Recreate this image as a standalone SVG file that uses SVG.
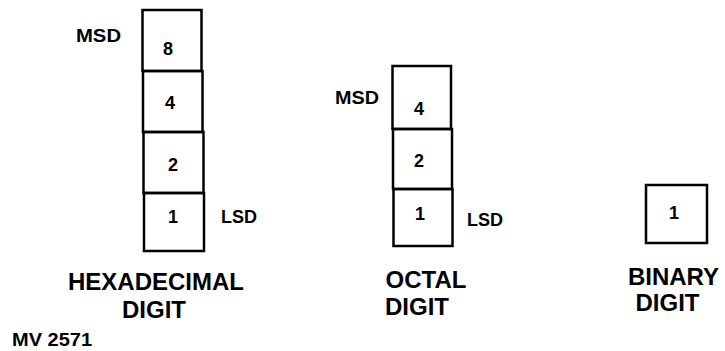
<svg xmlns="http://www.w3.org/2000/svg" width="725" height="351" viewBox="0 0 725 351">
<style>
  .box { fill: none; stroke: #000; stroke-width: 2.5; }
  .t { font-family: "Liberation Sans", Arial, sans-serif; font-weight: bold; fill: #000; }
  .d { font-size: 18px; text-anchor: middle; }
  .lbl { font-size: 18px; }
  .cap { font-size: 24px; text-anchor: middle; }
</style>
<rect width="725" height="351" fill="#fff"/>
<g id="hex">
  <rect class="box" x="142.5" y="10" width="59" height="61"/>
  <rect class="box" x="143" y="71" width="59.5" height="61"/>
  <rect class="box" x="143.5" y="132" width="60" height="61"/>
  <rect class="box" x="144" y="193" width="60" height="58"/>
  <text class="t d" x="168" y="55">8</text>
  <text class="t d" x="170" y="109">4</text>
  <text class="t d" x="173" y="171">2</text>
  <text class="t d" x="173" y="223">1</text>
  <text class="t lbl" x="76" y="42" textLength="45" lengthAdjust="spacingAndGlyphs">MSD</text>
  <text class="t lbl" x="221" y="223">LSD</text>
  <text class="t cap" x="156" y="290">HEXADECIMAL</text>
  <text class="t cap" x="154" y="318">DIGIT</text>
</g>
<g id="octal">
  <rect class="box" x="392.5" y="66" width="58.5" height="63"/>
  <rect class="box" x="393" y="129" width="59" height="60"/>
  <rect class="box" x="393.5" y="189" width="59" height="57"/>
  <text class="t d" x="419" y="115">4</text>
  <text class="t d" x="419" y="167">2</text>
  <text class="t d" x="420" y="220">1</text>
  <text class="t lbl" x="335" y="104" textLength="44" lengthAdjust="spacingAndGlyphs">MSD</text>
  <text class="t lbl" x="467" y="226">LSD</text>
  <text class="t cap" x="426" y="288">OCTAL</text>
  <text class="t cap" x="417" y="315">DIGIT</text>
</g>
<g id="binary">
  <rect class="box" x="646" y="185" width="61" height="58"/>
  <text class="t d" x="674" y="219">1</text>
  <text class="t cap" x="673.5" y="285">BINARY</text>
  <text class="t cap" x="667.5" y="311">DIGIT</text>
</g>
<g id="connectors"/>
<text class="t lbl" x="12" y="346" textLength="80" lengthAdjust="spacingAndGlyphs">MV 2571</text>
</svg>
